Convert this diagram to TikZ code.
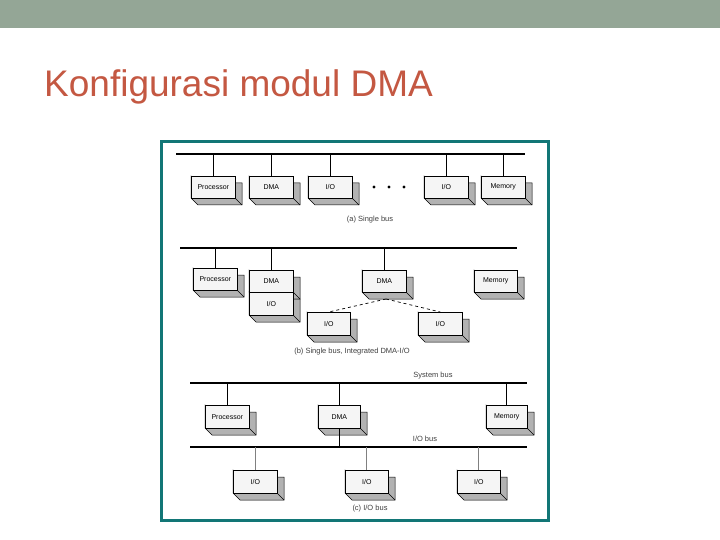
\documentclass[tikz,border=0pt]{standalone}
\usepackage{fontspec}
\setmainfont{Liberation Sans}
\definecolor{band}{RGB}{148,166,150}
\definecolor{frame}{RGB}{18,118,118}
\definecolor{titlec}{RGB}{196,88,66}
\begin{document}
\begin{tikzpicture}[x=1pt,y=-1pt,
  bus/.style={line width=2.6pt},
  drop/.style={line width=0.7pt},
  face/.style={draw=black,line width=0.6pt,fill=gray!8,font=\fontsize{7}{7}\selectfont,inner sep=0pt},
  side/.style={fill=gray!60,draw=black,line width=0.5pt},
  lbl/.style={font=\fontsize{7.5}{8}\selectfont,text=black!75}]
\useasboundingbox (0,0) rectangle (720,540);
\fill[white] (0,0) rectangle (720,540);
\fill[band] (0,0) rectangle (720,28);
\node[anchor=base west,font=\fontsize{37}{40}\selectfont,text=titlec,inner sep=0pt] (title) at (44,97) {Konfigurasi modul DMA};
\draw[line width=3pt,draw=frame] (161,142) rectangle (548,520) ;
\newcommand\dbox[6]{%
  \path[side] (#2,#3) -- (#2+7,#3+7) -- (#4+7,#3+7) -- (#4+7,#5+7) -- (#2+7,#5+7) -- (#2,#5) -- cycle;
  \draw[line width=0.5pt] (#4,#5)--(#4+7,#5+7);
  \node[face,minimum width=#4-#2,minimum height=#5-#3,anchor=north west] (#1) at (#2,#3) {#6};}
% (a)
\coordinate (aL) at (176,154); \coordinate (aR) at (525,154);
\draw[bus] (aL) -- (aR);
\dbox{aP}{191}{176}{235}{198}{Processor}
\dbox{aD}{249}{176}{293}{198}{DMA}
\dbox{aI}{308}{176}{352}{198}{I/O}
\dbox{aI2}{424}{176}{468}{198}{I/O}
\dbox{aM}{481}{176}{525}{198}{Memory}
\foreach \n in {aP,aD,aI,aI2,aM}{\draw[drop] (\n.north) -- (\n.north |- aL);}
\foreach \x in {374,389,404}{\fill (\x,187) circle (1.6);}
\node[lbl] (la) at (370,220) {(a) Single bus};
% (b)
\coordinate (bL) at (180,248); \coordinate (bR) at (517,248);
\draw[bus] (bL) -- (bR);
\dbox{bP}{193}{268}{237}{290}{Processor}
\dbox{bD}{249}{270}{293}{292}{DMA}
\dbox{bDI}{249}{292}{293}{315}{I/O}
\dbox{bD2}{362}{270}{406}{292}{DMA}
\dbox{bM}{474}{270}{517}{292}{Memory}
\dbox{bI1}{307}{312}{350}{335}{I/O}
\dbox{bI2}{418}{312}{462}{335}{I/O}
\coordinate (bJ) at (386,299);
\draw[drop] (bP.north) -- (bP.north |- bL);
\draw[line width=1.3pt] (bD.north) -- (bD.north |- bL);
\draw[drop] (bD2.north) -- (bD2.north |- bL);
\draw[drop,dashed] (bJ) -- (bI1.north);
\draw[drop,dashed] (bJ) -- (bI2.north);
\node[lbl] (lb) at (352,352) {(b) Single bus, Integrated DMA-I/O};
% (c)
\coordinate (cL) at (190,383); \coordinate (cR) at (527,383);
\draw[bus] (cL) -- (cR);
\node[lbl] (lsys) at (433,376) {System bus};
\coordinate (dL) at (190,447); \coordinate (dR) at (527,447);
\draw[bus] (dL) -- (dR);
\node[lbl] (lio) at (425,439) {I/O bus};
\dbox{cP}{205}{405}{249}{428}{Processor}
\dbox{cD}{318}{405}{360}{428}{DMA}
\dbox{cM}{486}{405}{527}{428}{Memory}
\foreach \n in {cP,cD,cM}{\draw[drop] (\n.north) -- (\n.north |- cL);}
\draw[drop] (cD.south) -- (cD.south |- dL);
\dbox{cI1}{233}{470}{277}{493}{I/O}
\dbox{cI2}{345}{470}{388}{493}{I/O}
\dbox{cI3}{457}{470}{500}{493}{I/O}
\draw[line width=1.6pt,gray] (cI1.north) -- (cI1.north |- dL);
\draw[drop,gray] (cI2.north) -- (cI2.north |- dL);
\draw[drop,gray] (cI3.north) -- (cI3.north |- dL);
\node[lbl] (lc) at (370,509) {(c) I/O bus};
\end{tikzpicture}
\end{document}
